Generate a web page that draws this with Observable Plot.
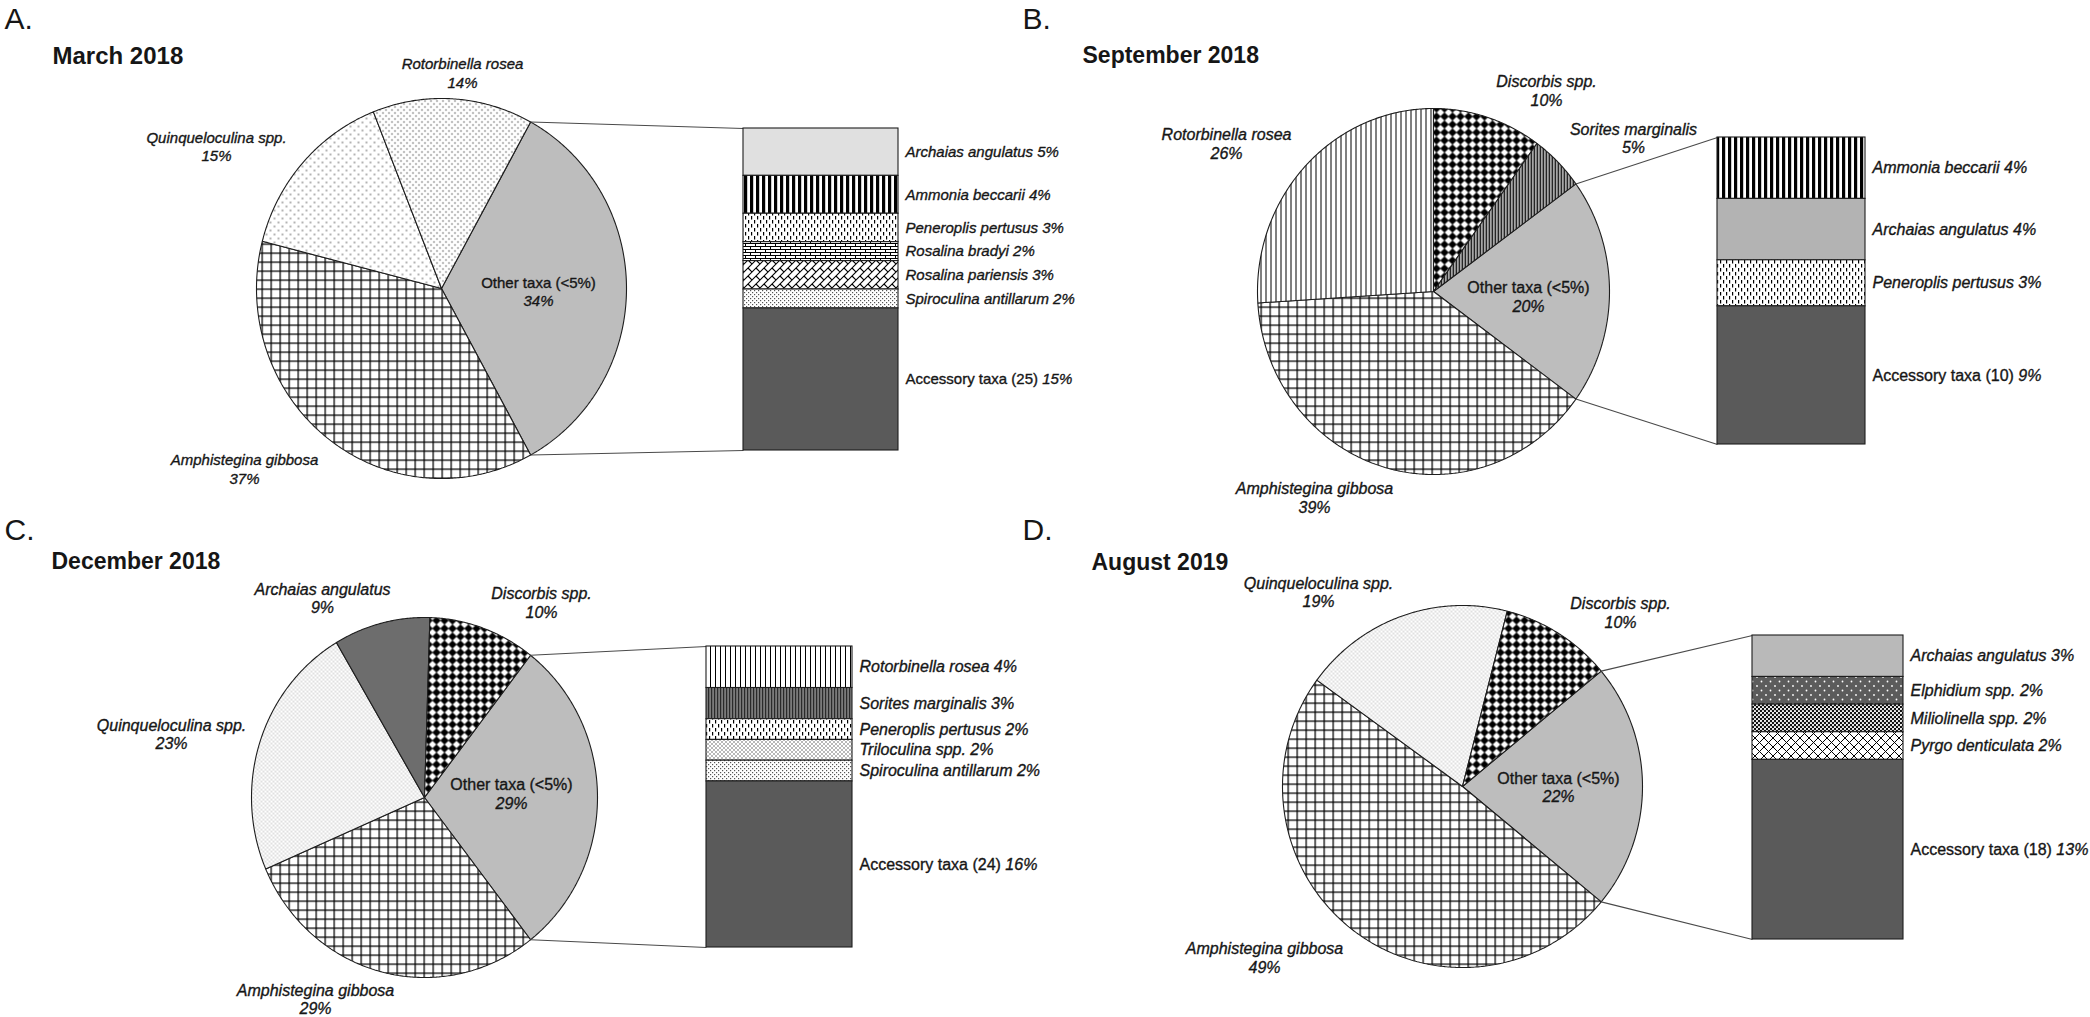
<!DOCTYPE html>
<html>
<head>
<meta charset="utf-8">
<script src="https://cdn.jsdelivr.net/npm/d3@7"></script>
<script src="https://cdn.jsdelivr.net/npm/@observablehq/plot@0.6"></script>
<style>
html, body { margin: 0; padding: 0; background: #fff; overflow: hidden; }
#chart svg { display: block; }
</style>
</head>
<body>
<svg width="0" height="0" style="position:absolute">
<defs>
  <pattern id="grid" patternUnits="userSpaceOnUse" width="9" height="9">
    <rect width="9" height="9" fill="#fff"/>
    <path d="M0 0.6H9M0.6 0V9" stroke="#000" stroke-width="1.3"/>
  </pattern>
  <pattern id="dotsSparse" patternUnits="userSpaceOnUse" width="8" height="8">
    <rect width="8" height="8" fill="#fff"/>
    <circle cx="2" cy="2" r="0.8" fill="#555"/><circle cx="6" cy="6" r="0.8" fill="#555"/>
  </pattern>
  <pattern id="dotsMed" patternUnits="userSpaceOnUse" width="6" height="6">
    <rect width="6" height="6" fill="#fff"/>
    <circle cx="1.5" cy="1.5" r="0.75" fill="#444"/><circle cx="4.5" cy="4.5" r="0.75" fill="#444"/>
  </pattern>
  <pattern id="dotsFine" patternUnits="userSpaceOnUse" width="4" height="4">
    <rect width="4" height="4" fill="#fff"/>
    <circle cx="1" cy="1" r="0.6" fill="#777"/><circle cx="3" cy="3" r="0.6" fill="#777"/>
  </pattern>
  <pattern id="vThin" patternUnits="userSpaceOnUse" width="5" height="5">
    <rect width="5" height="5" fill="#fff"/>
    <rect x="0" width="1" height="5" fill="#000"/>
  </pattern>
  <pattern id="vDark" patternUnits="userSpaceOnUse" width="3" height="3">
    <rect width="3" height="3" fill="#fff"/>
    <rect x="0" width="1.7" height="3" fill="#000"/>
  </pattern>
  <pattern id="vThick" patternUnits="userSpaceOnUse" width="6" height="6">
    <rect width="6" height="6" fill="#fff"/>
    <rect x="0" width="3.2" height="6" fill="#000"/>
  </pattern>
  <pattern id="diamonds" patternUnits="userSpaceOnUse" width="8" height="8">
    <rect width="8" height="8" fill="#fff"/>
    <path d="M4 -0.2L8.2 4L4 8.2L-0.2 4Z" fill="#000"/>
  </pattern>
  <pattern id="dashV" patternUnits="userSpaceOnUse" width="6" height="8">
    <rect width="6" height="8" fill="#fff"/>
    <rect x="1" y="0" width="1.2" height="3.5" fill="#000"/><rect x="4" y="4" width="1.2" height="3.5" fill="#000"/>
  </pattern>
  <pattern id="brick" patternUnits="userSpaceOnUse" width="10" height="6">
    <rect width="10" height="6" fill="#fff"/>
    <path d="M0 0.5H10M0 3.5H10M0.5 0.5V3.5M5.5 3.5V6.5" stroke="#000" stroke-width="1"/>
  </pattern>
  <pattern id="weave" patternUnits="userSpaceOnUse" width="8" height="8">
    <rect width="8" height="8" fill="#fff"/>
    <path d="M0 8L8 0M4 4L8 8M-1 1L1 -1M7 9L9 7" stroke="#000" stroke-width="1.1"/>
  </pattern>
  <pattern id="checkFine" patternUnits="userSpaceOnUse" width="4" height="4">
    <rect width="4" height="4" fill="#fff"/>
    <rect x="0" y="0" width="1.2" height="1.2" fill="#555"/><rect x="2" y="2" width="1.2" height="1.2" fill="#555"/>
  </pattern>
  <pattern id="trilo" patternUnits="userSpaceOnUse" width="4" height="4">
    <rect width="4" height="4" fill="#fff"/>
    <path d="M0 0L4 4M4 0L0 4" stroke="#888" stroke-width="0.6"/>
  </pattern>
  <pattern id="soritesC" patternUnits="userSpaceOnUse" width="3" height="3">
    <rect width="3" height="3" fill="#7a7a7a"/>
    <rect x="0" width="1.2" height="3" fill="#2a2a2a"/>
  </pattern>
  <pattern id="elph" patternUnits="userSpaceOnUse" width="9" height="9">
    <rect width="9" height="9" fill="#5c5c5c"/>
    <circle cx="2" cy="2" r="0.9" fill="#fff"/><circle cx="6.5" cy="6.5" r="0.9" fill="#fff"/>
  </pattern>
  <pattern id="milio" patternUnits="userSpaceOnUse" width="4" height="4">
    <rect width="4" height="4" fill="#111"/>
    <circle cx="1" cy="1" r="1.1" fill="#fff"/><circle cx="3" cy="3" r="1.1" fill="#fff"/>
  </pattern>
  <pattern id="pyrgo" patternUnits="userSpaceOnUse" width="9" height="9">
    <rect width="9" height="9" fill="#fff"/>
    <path d="M0 0L9 9M9 0L0 9" stroke="#000" stroke-width="1"/>
  </pattern>
</defs>
</svg>
<div id="chart"></div>
<script>
// ---------------- DATA ----------------
// A. March 2018
const marchPieTaxa = ["Other taxa (<5%)", "Amphistegina gibbosa", "Quinqueloculina spp.", "Rotorbinella rosea"];
const marchPieValues = [34, 37, 15, 14];
const marchBarTaxa = ["Archaias angulatus", "Ammonia beccarii", "Peneroplis pertusus", "Rosalina bradyi", "Rosalina pariensis", "Spiroculina antillarum", "Accessory taxa (25)"];
const marchBarValues = [5, 4, 3, 2, 3, 2, 15];

// B. September 2018
const septPieTaxa = ["Other taxa (<5%)", "Amphistegina gibbosa", "Rotorbinella rosea", "Discorbis spp.", "Sorites marginalis"];
const septPieValues = [20, 39, 26, 10, 5];
const septBarTaxa = ["Ammonia beccarii", "Archaias angulatus", "Peneroplis pertusus", "Accessory taxa (10)"];
const septBarValues = [4, 4, 3, 9];

// C. December 2018
const decPieTaxa = ["Other taxa (<5%)", "Amphistegina gibbosa", "Quinqueloculina spp.", "Archaias angulatus", "Discorbis spp."];
const decPieValues = [29, 29, 23, 9, 10];
const decBarTaxa = ["Rotorbinella rosea", "Sorites marginalis", "Peneroplis pertusus", "Triloculina spp.", "Spiroculina antillarum", "Accessory taxa (24)"];
const decBarValues = [4, 3, 2, 2, 2, 16];

// D. August 2019
const augPieTaxa = ["Other taxa (<5%)", "Amphistegina gibbosa", "Quinqueloculina spp.", "Discorbis spp."];
const augPieValues = [22, 49, 19, 10];
const augBarTaxa = ["Archaias angulatus", "Elphidium spp.", "Miliolinella spp.", "Pyrgo denticulata", "Accessory taxa (18)"];
const augBarValues = [3, 2, 2, 2, 13];

// ---------------- STYLES ----------------
const OTHER = "#bdbdbd", ACC = "#5a5a5a";
const fills = {
  A: {"Other taxa (<5%)": OTHER, "Amphistegina gibbosa": "url(#grid)", "Quinqueloculina spp.": "url(#dotsSparse)", "Rotorbinella rosea": "url(#dotsMed)",
      "Archaias angulatus": "#e0e0e0", "Ammonia beccarii": "url(#vThick)", "Peneroplis pertusus": "url(#dashV)", "Rosalina bradyi": "url(#brick)",
      "Rosalina pariensis": "url(#weave)", "Spiroculina antillarum": "url(#checkFine)", "Accessory taxa (25)": ACC},
  B: {"Other taxa (<5%)": OTHER, "Amphistegina gibbosa": "url(#grid)", "Rotorbinella rosea": "url(#vThin)", "Discorbis spp.": "url(#diamonds)", "Sorites marginalis": "url(#vDark)",
      "Ammonia beccarii": "url(#vThick)", "Archaias angulatus": "#b3b3b3", "Peneroplis pertusus": "url(#dashV)", "Accessory taxa (10)": ACC},
  C: {"Other taxa (<5%)": OTHER, "Amphistegina gibbosa": "url(#grid)", "Quinqueloculina spp.": "url(#dotsFine)", "Archaias angulatus": "#6d6d6d", "Discorbis spp.": "url(#diamonds)",
      "Rotorbinella rosea": "url(#vThin)", "Sorites marginalis": "url(#soritesC)", "Peneroplis pertusus": "url(#dashV)", "Triloculina spp.": "url(#trilo)",
      "Spiroculina antillarum": "url(#checkFine)", "Accessory taxa (24)": ACC},
  D: {"Other taxa (<5%)": OTHER, "Amphistegina gibbosa": "url(#grid)", "Quinqueloculina spp.": "url(#dotsFine)", "Discorbis spp.": "url(#diamonds)",
      "Archaias angulatus": "#b9b9b9", "Elphidium spp.": "url(#elph)", "Miliolinella spp.": "url(#milio)", "Pyrgo denticulata": "url(#pyrgo)", "Accessory taxa (18)": ACC}
};

// ---------------- LAYOUT ----------------
const panels = [
  {key: "A", letter: "A.", title: "March 2018", pieTaxa: marchPieTaxa, pieValues: marchPieValues, barTaxa: marchBarTaxa, barValues: marchBarValues,
   letterAt: [4, 19], titleAt: [52, 56], titleSize: 24, fs: 15,
   pie: {cx: 441, cy: 288, rx: 185, ry: 190},
   labelAt: {"Rotorbinella rosea": [462, 72], "Quinqueloculina spp.": [216, 145.5], "Amphistegina gibbosa": [244, 468], "Other taxa (<5%)": [538, 291.5]},
   bar: {x0: 743, x1: 898, y0: 128, y1: 450}},
  {key: "B", letter: "B.", title: "September 2018", pieTaxa: septPieTaxa, pieValues: septPieValues, barTaxa: septBarTaxa, barValues: septBarValues,
   letterAt: [1022, 19], titleAt: [1082, 55.6], titleSize: 23, fs: 16,
   pie: {cx: 1433, cy: 291, rx: 176, ry: 183},
   labelAt: {"Discorbis spp.": [1546, 90], "Rotorbinella rosea": [1226, 143], "Sorites marginalis": [1633, 137.5], "Amphistegina gibbosa": [1314, 497], "Other taxa (<5%)": [1528, 297]},
   bar: {x0: 1717, x1: 1865, y0: 137, y1: 444}},
  {key: "C", letter: "C.", title: "December 2018", pieTaxa: decPieTaxa, pieValues: decPieValues, barTaxa: decBarTaxa, barValues: decBarValues,
   letterAt: [4, 530], titleAt: [51, 561.6], titleSize: 23, fs: 16,
   pie: {cx: 424, cy: 797, rx: 173, ry: 180},
   labelAt: {"Archaias angulatus": [322, 597.5], "Discorbis spp.": [541, 602], "Quinqueloculina spp.": [171, 733.5], "Amphistegina gibbosa": [315, 998.5], "Other taxa (<5%)": [511, 794]},
   bar: {x0: 706, x1: 852, y0: 646, y1: 947}},
  {key: "D", letter: "D.", title: "August 2019", pieTaxa: augPieTaxa, pieValues: augPieValues, barTaxa: augBarTaxa, barValues: augBarValues,
   letterAt: [1022, 530], titleAt: [1091, 562.6], titleSize: 23, fs: 16,
   pie: {cx: 1462, cy: 786, rx: 180, ry: 181},
   labelAt: {"Quinqueloculina spp.": [1318, 591.5], "Discorbis spp.": [1620, 612], "Amphistegina gibbosa": [1264, 957], "Other taxa (<5%)": [1558, 787.5]},
   bar: {x0: 1752, x1: 1903, y0: 635, y1: 939}}
];

const W = 2090, H = 1017;
const FONT = "'Liberation Sans', Arial, Helvetica, sans-serif";
const INK = "#161616";
const TXT = {fill: INK, stroke: INK, strokeWidth: 0.35};

// angles in degrees, clockwise from 12 o'clock; "Other" slice centred at 3 o'clock
function pieArcs(values) {
  const total = d3.sum(values);
  let a = 90 - values[0] / total * 180;
  return values.map(v => { const a0 = a; a += v / total * 360; return [a0, a]; });
}
function onEllipse(p, deg) {
  const t = deg * Math.PI / 180;
  return {x: p.cx + p.rx * Math.sin(t), y: p.cy - p.ry * Math.cos(t)};
}

const marks = [];
for (const p of panels) {
  const arcs = pieArcs(p.pieValues);
  // pie slices
  p.pieTaxa.forEach((t, i) => {
    const [a0, a1] = arcs[i];
    const n = Math.max(2, Math.ceil((a1 - a0) / 0.5));
    const pts = [{x: p.pie.cx, y: p.pie.cy}];
    for (let k = 0; k <= n; k++) pts.push(onEllipse(p.pie, a0 + (a1 - a0) * k / n));
    pts.push({x: p.pie.cx, y: p.pie.cy});
    marks.push(Plot.line(pts, {x: "x", y: "y", fill: fills[p.key][t], stroke: "#1e1e1e", strokeWidth: 1.1, strokeLinejoin: "miter", curve: "linear"}));
  });
  // connector lines from the "Other" slice to the bar
  const [o0, o1] = arcs[0];
  const links = [
    {from: onEllipse(p.pie, o0), to: {x: p.bar.x0, y: p.bar.y0}},
    {from: onEllipse(p.pie, o1), to: {x: p.bar.x0, y: p.bar.y1}}
  ];
  marks.push(Plot.link(links, {x1: d => d.from.x, y1: d => d.from.y, x2: d => d.to.x, y2: d => d.to.y, stroke: "#4a4a4a", strokeWidth: 1.1}));

  // stacked bar of "Other taxa"
  const total = d3.sum(p.barValues);
  const ys = d3.scaleLinear().domain([0, total]).range([p.bar.y0, p.bar.y1]);
  let c = 0;
  const segs = p.barTaxa.map((t, i) => { const v = p.barValues[i]; const s = {taxon: t, value: v, v0: c, v1: c + v}; c += v; return s; });
  for (const s of segs) {
    marks.push(Plot.rect([s], {x1: () => p.bar.x0, x2: () => p.bar.x1, y1: d => ys(d.v0), y2: d => ys(d.v1),
      fill: fills[p.key][s.taxon], stroke: "#1e1e1e", strokeWidth: 1.1}));
  }
  const named = segs.filter(s => !s.taxon.startsWith("Accessory"));
  const acc = segs.filter(s => s.taxon.startsWith("Accessory"));
  marks.push(Plot.text(named, {x: () => p.bar.x1 + 7, y: d => ys((d.v0 + d.v1) / 2), text: d => `${d.taxon} ${d.value}%`,
    textAnchor: "start", fontStyle: "italic", fontSize: p.fs, ...TXT}));
  marks.push(Plot.text(acc, {x: () => p.bar.x1 + 7, y: d => ys((d.v0 + d.v1) / 2), text: d => `${d.taxon} ${d.value}%`,
    textAnchor: "start", fontSize: p.fs, ...TXT}));

  // pie labels
  const lh = 18.5;
  const species = p.pieTaxa.map((t, i) => ({taxon: t, value: p.pieValues[i]})).filter(d => !d.taxon.startsWith("Other"));
  const other = p.pieTaxa.map((t, i) => ({taxon: t, value: p.pieValues[i]})).filter(d => d.taxon.startsWith("Other"));
  marks.push(Plot.text(species, {x: d => p.labelAt[d.taxon][0], y: d => p.labelAt[d.taxon][1], text: d => `${d.taxon}\n${d.value}%`,
    fontStyle: "italic", fontSize: p.fs, lineHeight: lh / p.fs, ...TXT}));
  marks.push(Plot.text(other, {x: d => p.labelAt[d.taxon][0], y: d => p.labelAt[d.taxon][1] - lh / 2, text: d => d.taxon,
    fontSize: p.fs, ...TXT}));
  marks.push(Plot.text(other, {x: d => p.labelAt[d.taxon][0], y: d => p.labelAt[d.taxon][1] + lh / 2, text: d => `${d.value}%`,
    fontStyle: "italic", fontSize: p.fs, ...TXT}));

  // panel letter and title
  marks.push(Plot.text([p.letter], {x: () => p.letterAt[0], y: () => p.letterAt[1], text: d => d, textAnchor: "start", fontSize: 30, fill: INK}));
  marks.push(Plot.text([p.title], {x: () => p.titleAt[0], y: () => p.titleAt[1], text: d => d, textAnchor: "start", fontSize: p.titleSize, fontWeight: "bold", fill: INK}));
}

const svg = Plot.plot({
  width: W, height: H,
  margin: 0,
  x: {domain: [0, W], range: [0, W], axis: null},
  y: {domain: [0, H], range: [0, H], axis: null},
  style: {fontFamily: FONT, background: "#fff", color: INK},
  marks
});

// Accessory labels: count in roman, percentage in italics
d3.select(svg).selectAll("text").each(function () {
  const s = this.textContent;
  if (s.startsWith("Accessory taxa")) {
    const i = s.lastIndexOf(" ");
    const sel = d3.select(this).text("").style("white-space", "pre");
    sel.append("tspan").text(s.slice(0, i + 1));
    sel.append("tspan").attr("font-style", "italic").text(s.slice(i + 1));
  }
});

document.getElementById("chart").appendChild(svg);
</script>
</body>
</html>
